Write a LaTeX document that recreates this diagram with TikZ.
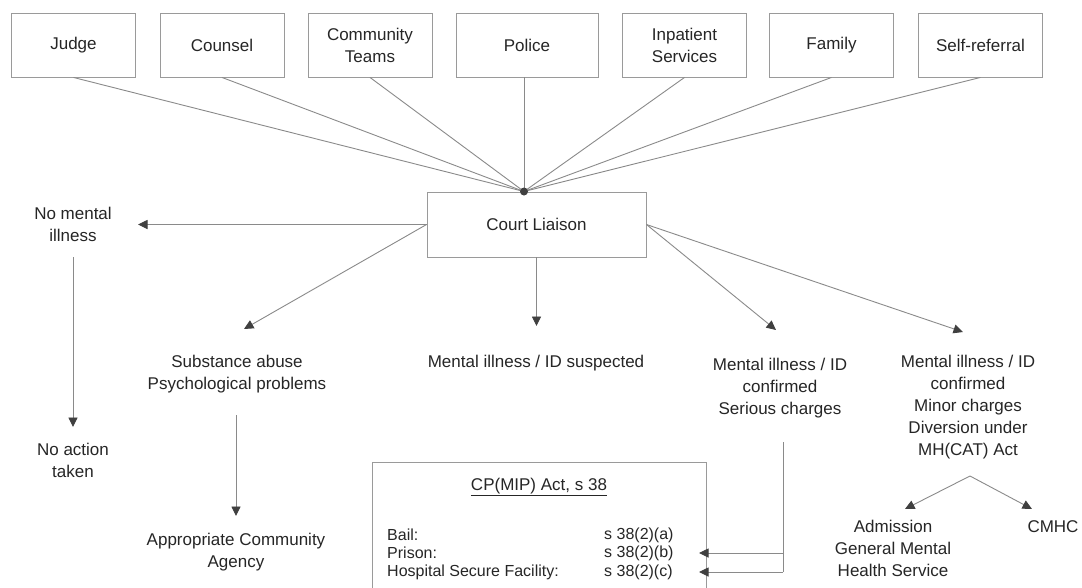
\documentclass[tikz,border=0pt]{standalone}
\usepackage{fontspec}
\setmainfont{Liberation Sans}
\usetikzlibrary{arrows.meta}
\definecolor{txt}{HTML}{262626}
\definecolor{ln}{HTML}{8A8A8A}
\definecolor{bx}{HTML}{9A9A9A}
\definecolor{tip}{HTML}{404040}
\begin{document}
\begin{tikzpicture}[x=1pt,y=-1pt,
  every node/.style={text=txt, font=\fontsize{17}{22}\selectfont, align=center, inner sep=0pt},
  srcbox/.style={draw=bx, line width=0.9pt, minimum width=124pt, minimum height=64pt},
  clbox/.style={draw=bx, line width=0.9pt, minimum width=219pt, minimum height=65pt},
  conn/.style={draw=ln, line width=0.9pt},
  arr/.style={conn, -{Triangle[length=9.5pt,width=9pt,color=tip]}},
  boxtext/.style={font=\fontsize{16}{19}\selectfont, anchor=west}
]
\useasboundingbox (0,0) rectangle (1082,587);
\clip (0,0) rectangle (1082,587);
\fill[white] (0,0) rectangle (1082,587);

% source boxes
\node[srcbox] (judge)   at (73.5,45) {Judge};
\node[srcbox] (counsel) at (222,45) {Counsel};
\node[srcbox] (comm)    at (370,45) {Community\\Teams};
\node[srcbox, minimum width=142pt] (police) at (527,45) {Police};
\node[srcbox] (inpat)   at (684.5,45) {Inpatient\\Services};
\node[srcbox] (family)  at (831.5,45) {Family};
\node[srcbox] (self)    at (980.5,45) {Self-referral};

% court liaison
\node[clbox] (cl) at (536.5,224.5) {Court Liaison};
\coordinate (dot) at (524,191.5);
\coordinate (polb) at (524,77);

\foreach \n in {judge,counsel,comm,inpat,family,self}
  \draw[conn] (\n.south) -- (dot);
\draw[conn] (polb) -- (dot);
\fill[tip] (dot) circle (4pt);

% outcome labels
\node (nomi)   at (73,224) {No mental\\illness};
\node (noact)  at (73,460) {No action\\taken};
\node (sub)    at (237,374.5) {Substance abuse\\Psychological problems};
\node (agency) at (236,552) {Appropriate Community\\Agency};
\node (susp)   at (536,363) {Mental illness / ID suspected};
\node (ser)    at (780,388) {Mental illness / ID\\confirmed\\Serious charges};
\node (minor)  at (968,407) {Mental illness / ID\\confirmed\\Minor charges\\Diversion under\\MH(CAT) Act};
\node (adm)    at (893,548) {Admission\\General Mental\\Health Service};
\node (cmhc)   at (1053,527) {CMHC};

% arrow tips and free ends
\coordinate (tnomi) at (138,224.5);
\coordinate (tsub)  at (244,329);
\coordinate (tsusp) at (536.5,326);
\coordinate (tser)  at (776,330);
\coordinate (tmin)  at (963,332);
\coordinate (snomi) at (73,257);
\coordinate (tnoact) at (73,427);
\coordinate (ssub)  at (236,415);
\coordinate (tag)   at (236,516);
\coordinate (sser)  at (783,442);
\coordinate (cser)  at (783,572);
\coordinate (bser)  at (783,553);
\coordinate (tb)    at (699,553);
\coordinate (tc)    at (699,572);
\coordinate (apex)  at (970,476);
\coordinate (tadm)  at (905,509);
\coordinate (tcmhc) at (1032,509);

\draw[arr] (cl.west) -- (tnomi);
\draw[arr] (cl.west) -- (tsub);
\draw[arr] (cl.south) -- (tsusp);
\draw[arr] (cl.east) -- (tser);
\draw[arr] (cl.east) -- (tmin);
\draw[arr] (snomi) -- (tnoact);
\draw[arr] (ssub) -- (tag);

% CP(MIP) box
\node[draw=bx, line width=0.9pt, minimum width=334pt, minimum height=200pt, anchor=north west] (cp) at (372,462) {};
\node (cptitle) at (539,487) {\underline{CP(MIP) Act, s 38}};
\node[boxtext] (bail)  at (387,535) {Bail:};
\node[boxtext] (pris)  at (387,553) {Prison:};
\node[boxtext] (hosp)  at (387,572) {Hospital Secure Facility:};
\node[boxtext] (sa)    at (604,535) {s 38(2)(a)};
\node[boxtext] (sb)    at (604,553) {s 38(2)(b)};
\node[boxtext] (sc)    at (604,572) {s 38(2)(c)};

\draw[conn] (sser) -- (cser);
\draw[arr] (bser) -- (tb);
\draw[arr] (cser) -- (tc);

\draw[arr] (apex) -- (tadm);
\draw[arr] (apex) -- (tcmhc);
\end{tikzpicture}
\end{document}
